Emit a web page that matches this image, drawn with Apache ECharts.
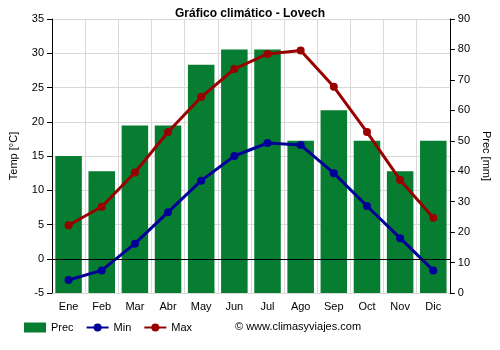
<!DOCTYPE html>
<html><head><meta charset="utf-8">
<script src="https://cdn.jsdelivr.net/npm/echarts@6/dist/echarts.min.js"></script>
<style>html,body{margin:0;padding:0;background:#fff}#c{width:500px;height:350px}</style>
</head><body><div id="c"></div>
<script>
var months = ['Ene','Feb','Mar','Abr','May','Jun','Jul','Ago','Sep','Oct','Nov','Dic'];
var prec = [45,40,55,55,75,80,80,50,60,50,40,50];
var tmin = [-3.1,-1.7,2.2,6.8,11.4,15.0,16.9,16.6,12.5,7.7,3.0,-1.7];
var tmax = [4.9,7.6,12.6,18.5,23.6,27.7,29.9,30.4,25.1,18.5,11.5,6.0];

var chart = echarts.init(document.getElementById('c'), null, {renderer:'canvas'});
var font = 'Arial, "Liberation Sans", sans-serif';
chart.setOption({
  animation:false,
  title:{text:'Gráfico climático - Lovech', left:'center', top:3,
    textStyle:{fontSize:12, fontWeight:'bold', color:'#000', fontFamily:font}},
  grid:{left:49, right:49, top:19, bottom:57},
  legend:{bottom:12, left:19, itemGap:12, itemWidth:22, itemHeight:10,
    textStyle:{fontSize:11, color:'#000', fontFamily:font},
    data:[{name:'Prec', icon:'rect'},{name:'Min'},{name:'Max'}]},
  graphic:[{type:'text', left:235, top:321,
    style:{text:'© www.climasyviajes.com', fontSize:11, fill:'#000', fontFamily:font}}],
  xAxis:{type:'category', data:months,
    axisLine:{lineStyle:{color:'#000'}}, axisTick:{alignWithLabel:false, lineStyle:{color:'#000'}},
    axisLabel:{color:'#000', fontSize:11, fontFamily:font, interval:0},
    splitLine:{show:true, lineStyle:{color:'#d9d9d9'}}},
  yAxis:[
    {type:'value', min:-5, max:35, interval:5, name:'Temp [°C]', nameLocation:'middle', nameGap:33,
     nameTextStyle:{fontSize:11, color:'#000', fontFamily:font},
     axisLine:{show:true, lineStyle:{color:'#000'}}, axisTick:{show:true, lineStyle:{color:'#000'}},
     axisLabel:{color:'#000', fontSize:11, fontFamily:font},
     splitLine:{lineStyle:{color:'#d9d9d9'}}},
    {type:'value', min:0, max:90, interval:10, name:'Prec [mm]', nameLocation:'middle', nameGap:31,
     nameRotate:-90,
     nameTextStyle:{fontSize:11, color:'#000', fontFamily:font},
     axisLine:{show:true, lineStyle:{color:'#000'}}, axisTick:{show:true, lineStyle:{color:'#000'}},
     axisLabel:{color:'#000', fontSize:11, fontFamily:font},
     splitLine:{show:false}}
  ],
  series:[
    {name:'Prec', type:'bar', yAxisIndex:1, data:prec, barCategoryGap:'20%',
     itemStyle:{color:'#077d31'}, z:1},
    {name:'Min', type:'line', yAxisIndex:0, data:tmin, symbol:'circle', symbolSize:8,
     lineStyle:{color:'#000099', width:3}, itemStyle:{color:'#000099'}, z:3,
     markLine:{silent:true, symbol:'none', label:{show:false},
       lineStyle:{color:'#000', width:1, type:'solid'}, data:[{yAxis:0}]}},
    {name:'Max', type:'line', yAxisIndex:0, data:tmax, symbol:'circle', symbolSize:8,
     lineStyle:{color:'#990000', width:3}, itemStyle:{color:'#990000'}, z:3}
  ]
});
</script></body></html>
